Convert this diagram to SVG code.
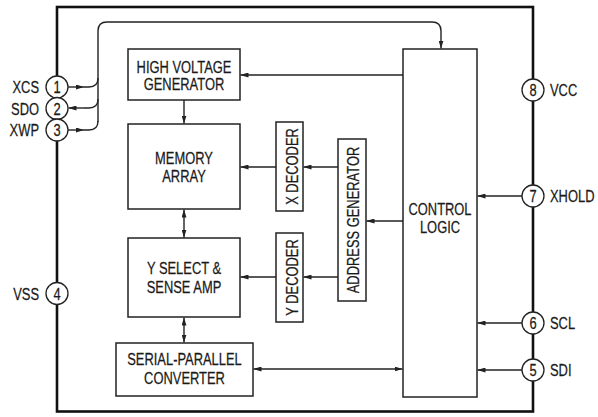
<svg xmlns="http://www.w3.org/2000/svg" width="598" height="417" viewBox="0 0 598 417">
<style>
text { font-family: "Liberation Sans", Arial, sans-serif; font-size: 17px; fill: #1a1a1a; stroke: #1a1a1a; stroke-width: 0.25; }
.box { fill: #fff; stroke: #222; stroke-width: 1.5; }
.pin { fill: #fff; stroke: #222; stroke-width: 1.3; }
.ln { fill: none; stroke: #222; stroke-width: 1.4; }
.ol { fill: none; stroke: #111; stroke-width: 2.6; }
</style>
<defs>
<marker id="ah" viewBox="0 0 8 5" refX="8" refY="2.5" markerWidth="8" markerHeight="5" orient="auto-start-reverse" markerUnits="userSpaceOnUse">
<path d="M0,0 L8,2.5 L0,5 z" fill="#222"/>
</marker>
</defs>
<rect id="package" class="ol" x="57" y="7" width="476" height="404.5"/>
<g id="connectors">
<path class="ln" d="M98,122 V31 Q98,22 107,22 H432 Q441,22 441,31 V48.5" marker-end="url(#ah)"/>
<path class="ln" d="M68,87 H84" marker-end="url(#ah)"/>
<path class="ln" d="M84,87 H89 Q98,87 98,78"/>
<path class="ln" d="M84,108 H68.5" marker-end="url(#ah)"/>
<path class="ln" d="M84,108 H89 Q98,108 98,99"/>
<path class="ln" d="M68,130 H84" marker-end="url(#ah)"/>
<path class="ln" d="M84,130 H89 Q98,130 98,121"/>
<path class="ln" d="M403,75 H240.5" marker-end="url(#ah)"/>
<path class="ln" d="M184,100 V123.5" marker-end="url(#ah)"/>
<path class="ln" d="M184,209.5 V237.5" marker-start="url(#ah)" marker-end="url(#ah)"/>
<path class="ln" d="M184,317.5 V342.5" marker-start="url(#ah)" marker-end="url(#ah)"/>
<path class="ln" d="M276,167 H240.5" marker-end="url(#ah)"/>
<path class="ln" d="M338,167 H303.5" marker-end="url(#ah)"/>
<path class="ln" d="M276,277 H240.5" marker-end="url(#ah)"/>
<path class="ln" d="M338,277 H303.5" marker-end="url(#ah)"/>
<path class="ln" d="M403,221 H366.5" marker-end="url(#ah)"/>
<path class="ln" d="M253.5,369 H402.5" marker-start="url(#ah)" marker-end="url(#ah)"/>
<path class="ln" d="M522,196 H477.5" marker-end="url(#ah)"/>
<path class="ln" d="M522,323 H477.5" marker-end="url(#ah)"/>
<path class="ln" d="M522,370 H477.5" marker-end="url(#ah)"/>
</g>
<g id="hvg">
<rect class="box" x="128" y="49" width="112" height="51"/>
<text transform="translate(184,72.5) scale(0.76,1)" text-anchor="middle">HIGH VOLTAGE</text>
<text transform="translate(184,90) scale(0.76,1)" text-anchor="middle">GENERATOR</text>
</g>
<g id="memory">
<rect class="box" x="128" y="124" width="112" height="85"/>
<text transform="translate(184,163.5) scale(0.76,1)" text-anchor="middle">MEMORY</text>
<text transform="translate(184,181.5) scale(0.76,1)" text-anchor="middle">ARRAY</text>
</g>
<g id="yselect">
<rect class="box" x="128" y="238" width="112" height="79"/>
<text transform="translate(184,274) scale(0.76,1)" text-anchor="middle">Y SELECT &amp;</text>
<text transform="translate(184,292.5) scale(0.76,1)" text-anchor="middle">SENSE AMP</text>
</g>
<g id="serial">
<rect class="box" x="116" y="343" width="137" height="53"/>
<text transform="translate(184.5,365) scale(0.76,1)" text-anchor="middle">SERIAL-PARALLEL</text>
<text transform="translate(184.5,384) scale(0.76,1)" text-anchor="middle">CONVERTER</text>
</g>
<g id="xdecoder">
<rect class="box" x="276" y="122" width="27" height="89"/>
<text transform="translate(297.5,166.5) rotate(-90) scale(0.76,1)" text-anchor="middle">X DECODER</text>
</g>
<g id="ydecoder">
<rect class="box" x="276" y="233" width="27" height="89"/>
<text transform="translate(297.5,277.5) rotate(-90) scale(0.76,1)" text-anchor="middle">Y DECODER</text>
</g>
<g id="addrgen">
<rect class="box" x="338" y="139" width="28" height="162"/>
<text transform="translate(358.5,220) rotate(-90) scale(0.76,1)" text-anchor="middle">ADDRESS GENERATOR</text>
</g>
<g id="control">
<rect class="box" x="403" y="49" width="74" height="348"/>
<text transform="translate(440,215) scale(0.76,1)" text-anchor="middle">CONTROL</text>
<text transform="translate(440,233) scale(0.76,1)" text-anchor="middle">LOGIC</text>
</g>
<g id="pin1">
<circle class="pin" cx="57" cy="87" r="11"/>
<text transform="translate(57,93) scale(0.76,1)" text-anchor="middle">1</text>
<text transform="translate(39,93) scale(0.76,1)" text-anchor="end">XCS</text>
</g>
<g id="pin2">
<circle class="pin" cx="57" cy="108.5" r="11"/>
<text transform="translate(57,114.5) scale(0.76,1)" text-anchor="middle">2</text>
<text transform="translate(39,114.5) scale(0.76,1)" text-anchor="end">SDO</text>
</g>
<g id="pin3">
<circle class="pin" cx="57" cy="130" r="11"/>
<text transform="translate(57,136) scale(0.76,1)" text-anchor="middle">3</text>
<text transform="translate(39,136) scale(0.76,1)" text-anchor="end">XWP</text>
</g>
<g id="pin4">
<circle class="pin" cx="57" cy="293.5" r="11"/>
<text transform="translate(57,299.5) scale(0.76,1)" text-anchor="middle">4</text>
<text transform="translate(39,299.5) scale(0.76,1)" text-anchor="end">VSS</text>
</g>
<g id="pin8">
<circle class="pin" cx="533" cy="90" r="11"/>
<text transform="translate(533,96) scale(0.76,1)" text-anchor="middle">8</text>
<text transform="translate(550,96) scale(0.76,1)">VCC</text>
</g>
<g id="pin7">
<circle class="pin" cx="533" cy="196" r="11"/>
<text transform="translate(533,202) scale(0.76,1)" text-anchor="middle">7</text>
<text transform="translate(550,202) scale(0.76,1)">XHOLD</text>
</g>
<g id="pin6">
<circle class="pin" cx="533" cy="323" r="11"/>
<text transform="translate(533,329) scale(0.76,1)" text-anchor="middle">6</text>
<text transform="translate(550,329) scale(0.76,1)">SCL</text>
</g>
<g id="pin5">
<circle class="pin" cx="533" cy="370" r="11"/>
<text transform="translate(533,376) scale(0.76,1)" text-anchor="middle">5</text>
<text transform="translate(550,376) scale(0.76,1)">SDI</text>
</g>
</svg>
